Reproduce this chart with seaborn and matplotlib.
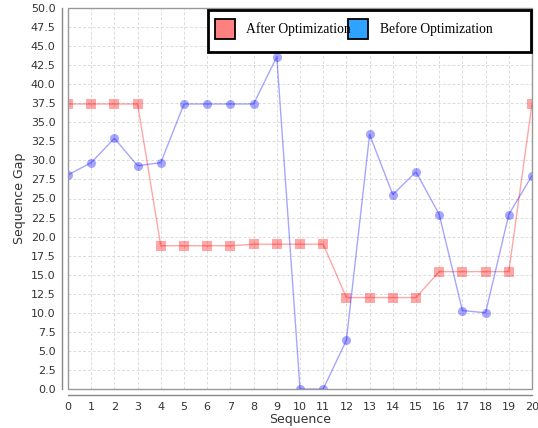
import numpy as np
import pandas as pd
import matplotlib
matplotlib.use("Agg")
import matplotlib.pyplot as plt
from matplotlib.patches import Rectangle
from matplotlib.lines import Line2D
import seaborn as sns

sequence = list(range(21))
after_opt = [37.4, 37.4, 37.4, 37.4, 18.8, 18.8, 18.8, 18.8, 19.0, 19.0, 19.0,
             19.0, 12.0, 12.0, 12.0, 12.0, 15.4, 15.4, 15.4, 15.4, 37.4]
before_opt = [28.1, 29.7, 32.9, 29.3, 29.7, 37.4, 37.4, 37.4, 37.4, 43.6, 0.0,
              0.0, 6.4, 33.4, 25.5, 28.5, 22.9, 10.3, 10.0, 22.9, 28.0]
series_names = ["After Optimization", "Before Optimization"]
legend_colors = ["#ff8080", "#2ea3ff"]
y_ticks = np.arange(0, 50.01, 2.5)

df = pd.DataFrame({
    "Sequence": sequence * 2,
    "Gap": after_opt + before_opt,
    "Series": [series_names[0]] * len(sequence) + [series_names[1]] * len(sequence),
})

sns.set_style("white")
plt.rcParams["font.family"] = ["DejaVu Sans"]

W, H = 538, 428
fig = plt.figure(figsize=(W / 100, H / 100), dpi=100)
ax = fig.add_axes([68 / W, 1 - 389 / H, (532 - 68) / W, (389 - 8) / H])

sns.lineplot(data=df[df.Series == series_names[0]], x="Sequence", y="Gap", ax=ax,
             color="#ff0000", alpha=0.35, lw=1.0, marker="s", markersize=6.5,
             markeredgewidth=0, legend=False)
sns.lineplot(data=df[df.Series == series_names[1]], x="Sequence", y="Gap", ax=ax,
             color="#0000ff", alpha=0.35, lw=1.0, marker="o", markersize=6.5,
             markeredgewidth=0, legend=False)

ax.set_xlim(0, 20)
ax.set_ylim(0, 50)
ax.set_xticks(sequence)
ax.set_yticks(y_ticks)
ax.set_yticklabels([f"{v:.1f}" for v in y_ticks])
ax.tick_params(axis="both", labelsize=8, colors="#555555", length=3, width=0.8,
               direction="out", pad=2, labelcolor="#333333")
ax.grid(True, color="#dcdcdc", linestyle=(0, (3, 2)), linewidth=0.7)
ax.set_axisbelow(True)

for side in ["top", "right"]:
    ax.spines[side].set_visible(False)
for side in ["left", "bottom"]:
    ax.spines[side].set_position(("outward", 4))
    ax.spines[side].set_color("#888888")
    ax.spines[side].set_linewidth(1.0)
ax.add_patch(Rectangle((0, 0), 1, 1, transform=ax.transAxes, fill=False,
                       edgecolor="#999999", lw=1.0, clip_on=False, zorder=5))

ax.set_xlabel("Sequence", fontsize=9, labelpad=1, color="#333333")
ax.set_ylabel("Sequence Gap", fontsize=9, labelpad=3, color="#333333")

# Legend box drawn in figure pixel coordinates
def fx(px):
    return px / W

def fy(py):
    return 1 - py / H

fig.add_artist(Rectangle((fx(208), fy(52)), fx(531) - fx(208), fy(10) - fy(52),
                         transform=fig.transFigure, facecolor="white",
                         edgecolor="black", lw=2, zorder=10))
swatch_x = [224.8, 358.0]
text_x = [246.5, 380.0]
for name, color, sx, tx in zip(series_names, legend_colors, swatch_x, text_x):
    fig.add_artist(Line2D([fx(sx)], [fy(28.5)], transform=fig.transFigure,
                          linestyle="none", marker="s", markersize=14.5,
                          markerfacecolor=color, markeredgecolor="black",
                          markeredgewidth=1.3, zorder=11))
    fig.text(fx(tx), fy(29), name, ha="left", va="center", zorder=12,
             family="Liberation Serif", fontsize=9.8, color="black")

fig.savefig("out.png", dpi=100)
